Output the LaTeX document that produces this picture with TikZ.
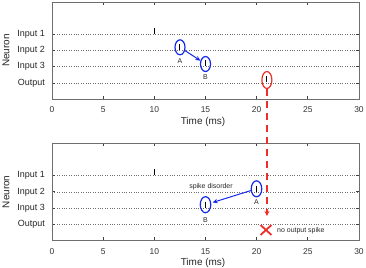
\documentclass[tikz,border=0pt]{standalone}
\usepackage{fontspec}
\setmainfont{Liberation Sans}
\usetikzlibrary{shapes.geometric,shapes.misc,arrows.meta}
\definecolor{myblue}{RGB}{20,40,235}
\definecolor{myred}{RGB}{240,45,40}
\definecolor{framegray}{RGB}{110,110,110}
\definecolor{gridgray}{RGB}{110,110,110}
\tikzset{
  frame/.style={draw=framegray,line width=0.9bp},
  axtick/.style={draw=black!75,line width=0.7bp},
  gridline/.style={draw=gridgray,line width=0.6bp,dash pattern=on 0.8bp off 1.6bp},
  ticklab/.style={font=\fontsize{8.5}{9}\selectfont,text=black!80,inner sep=0pt},
  ylab/.style={font=\fontsize{9}{10}\selectfont,text=black!85,inner sep=0pt,anchor=east},
  axlab/.style={font=\fontsize{10}{11}\selectfont,text=black!85,inner sep=0pt},
  spike/.style={draw=black,line width=1bp},
  blueell/.style={ellipse,draw=myblue,line width=1.2bp,minimum width=10bp,minimum height=15bp,inner sep=0pt},
  redell/.style={ellipse,draw=myred,line width=1.2bp,minimum width=10bp,minimum height=17bp,inner sep=0pt},
  smalllab/.style={font=\fontsize{7}{8}\selectfont,text=black!85,inner sep=0pt},
  notelab/.style={font=\fontsize{7}{8}\selectfont,text=black!85,inner sep=0pt},
  bluearrow/.style={draw=myblue,line width=1bp,-{Stealth[length=5bp,width=4.5bp]}},
  redarrow/.style={draw=myred,line width=1.8bp,dash pattern=on 6.5bp off 5.5bp,-{Stealth[length=5bp,width=5bp]}},
  crossmark/.style={cross out,draw=myred,line width=1.8bp,minimum width=9bp,minimum height=8bp,inner sep=0pt},
}
\newcommand\mypanel[2]{% #1 = vertical offset, #2 = name prefix
  \begin{scope}[yshift=-#1 bp]
    \foreach \yy/\lab/\k in {34.3/Input 1/1,50.5/Input 2/2,66.7/Input 3/3,82.9/Output/4}{
      \draw[gridline] (52,\yy) -- (359,\yy);
      \draw[axtick] (52,\yy) -- ++(3,0);
      \draw[axtick] (359,\yy) -- ++(-3,0);
      \node[ylab] (#2y\k) at (45,\yy) {\lab};
    }
    \foreach \t in {0,5,...,30}{
      \draw[axtick] (52+10.2333*\t,99) -- ++(0,-3);
      \draw[axtick] (52+10.2333*\t,2) -- ++(0,3);
      \node[ticklab] (#2x\t) at (52+10.2333*\t,110) {\t};
    }
    \draw[frame] (52,2) rectangle (359,99);
    \node[axlab,rotate=90] (#2neuron) at (6,50.5) {Neuron};
    \node[axlab] (#2time) at (203,122) {Time (ms)};
  \end{scope}}
\begin{document}
\begin{tikzpicture}[x=1bp,y=-1bp]
\useasboundingbox (0,0) rectangle (366,268);
% panels
\mypanel{0}{p}
\mypanel{141.3}{q}
% ---- top panel spikes
\draw[spike] (154.3,27.8) -- (154.3,33.8);
\draw[spike] (179.9,44.0) -- (179.9,50.0);
\draw[spike] (205.5,60.2) -- (205.5,66.2);
\draw[spike] (266.9,76.4) -- (266.9,82.4);
\node[blueell] (A1) at (180,47.3) {};
\node[blueell] (B1) at (205.5,64.0) {};
\node[redell] (R1) at (266.9,80) {};
\node[smalllab] (la1) at (180,61.5) {A};
\node[smalllab] (lb1) at (205.5,77.5) {B};
\draw[bluearrow] (A1) -- (B1);
% ---- bottom panel spikes
\draw[spike] (154.3,169.1) -- (154.3,175.1);
\draw[spike] (256.7,185.6) -- (256.7,191.6);
\draw[spike] (205.5,201.5) -- (205.5,207.5);
\node[blueell,minimum height=16bp,minimum width=10.5bp] (A2) at (256.5,188.8) {};
\node[blueell,minimum height=16bp,minimum width=10.5bp] (B2) at (205.5,204.7) {};
\node[smalllab] (la2) at (256.5,201.7) {A};
\node[smalllab] (lb2) at (205.5,220.5) {B};
\draw[bluearrow,shorten >=1.5bp] (A2) -- (B2);
\node[notelab] (dis) at (211,186.7) {spike disorder};
% ---- red dashed arrow and cross
\coordinate (Rend) at (266.9,216);
\draw[redarrow] (R1.south) -- (Rend);
\node[crossmark] (X) at (266,230) {};
\node[notelab,anchor=west] (nos) at (277,230.7) {no output spike};
\end{tikzpicture}
\end{document}
